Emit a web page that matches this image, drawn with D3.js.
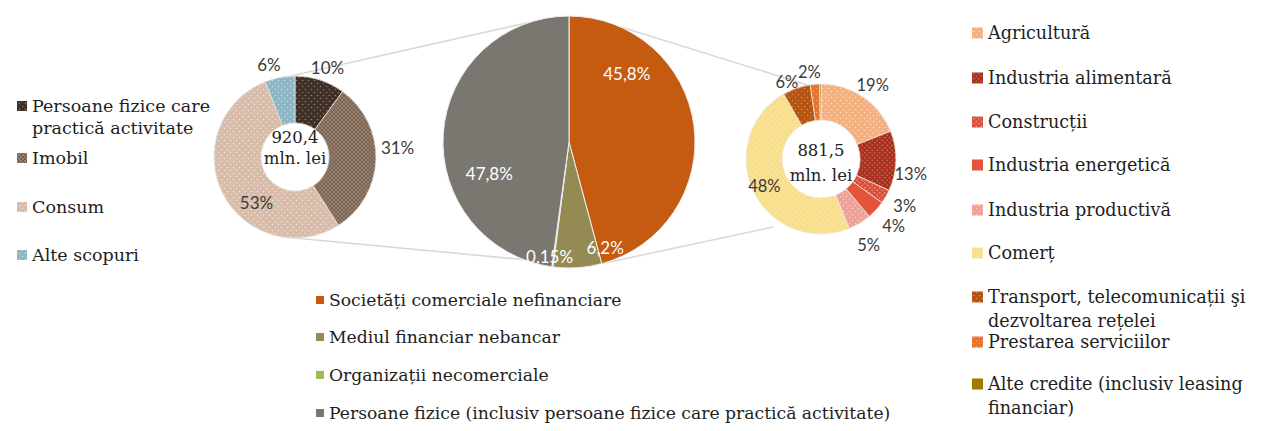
<!DOCTYPE html>
<html><head><meta charset="utf-8">
<script src="https://cdn.jsdelivr.net/npm/d3@7"></script>
<style>
body{margin:0;background:#fff;}
svg{display:block;}
</style></head>
<body><svg id="c" width="1271" height="431"></svg>
<script>
// ---------- DATA ----------
const leftCategories = ["Persoane fizice care practică activitate", "Imobil", "Consum", "Alte scopuri"];
const leftValues = [10, 31, 53, 6];
const leftLabels = ["10%", "31%", "53%", "6%"];
const leftTotal = ["920,4", "mln. lei"];

const midCategories = ["Societăți comerciale nefinanciare", "Mediul financiar nebancar", "Organizații necomerciale", "Persoane fizice (inclusiv persoane fizice care practică activitate)"];
const midValues = [45.8, 6.2, 0.15, 47.8];
const midLabels = ["45,8%", "6,2%", "0,15%", "47,8%"];

const rightCategories = ["Agricultură", "Industria alimentară", "Construcții", "Industria energetică", "Industria productivă", "Comerț", "Transport, telecomunicații şi dezvoltarea rețelei", "Prestarea serviciilor", "Alte credite (inclusiv leasing financiar)"];
const rightValues = [19, 13, 3, 4, 5, 48, 6, 2, 0.3];
const rightLabels = ["19%", "13%", "3%", "4%", "5%", "48%", "6%", "2%", ""];
const rightTotal = ["881,5", "mln. lei"];

// ---------- STYLE / LAYOUT ----------
const leftColors = [{b:"#3e3027",d:"#8a7a6c"},{b:"#7a6352",d:"#b8a595"},{b:"#d8bcaa",d:"#eedfd5"},{b:"#8cb6c4",d:"#c5dde5"}];
const midColors = ["#c55a11", "#948a54", "#9bbb59", "#7a7670"];
const rightColors = [{b:"#f4b07f",d:"#fbd8bd"},{b:"#a8321f",d:"#d0705c"},{b:"#d8513c",d:"#f19a88"},{b:"#e4543a",d:null},{b:"#eea196",d:"#f8d0ca"},{b:"#f8df8c",d:"#fbeab4"},{b:"#b5540f",d:"#dc8d55"},{b:"#e6722b",d:"#f3a570"},{b:"#a27a00",d:null}];

const leftLegendLines = [["Persoane fizice care", "practică activitate"], ["Imobil"], ["Consum"], ["Alte scopuri"]];
const leftLegendY = [106, 158, 207, 255];
const rightLegendLines = [["Agricultură"], ["Industria alimentară"], ["Construcții"], ["Industria energetică"], ["Industria productivă"], ["Comerț"], ["Transport, telecomunicații şi", "dezvoltarea rețelei"], ["Prestarea serviciilor"], ["Alte credite (inclusiv leasing", "financiar)"]];
const rightLegendY = [33, 78, 122, 165, 210, 253, 297, 342, 384];
const midLegendY = [300, 337, 375, 413];

// label placement: [angle shift (deg), radius]
const leftLabelPos = [[2, 95], [-7, 103], [-23, 60], [-5, 96]];
const midLabelPos = [[-42, 89], [-15, 112], [2, 117], [-26, 86]];
const rightLabelPos = [[1, 90], [8, 91], [-1, 96], [0, 99], [2, 98], [0, 63], [-5, 84], [-3, 88], [0, 0]];

const L = {cx: 295, cy: 157, r: 81, ri: 34};
const M = {cx: 569, cy: 142, r: 126};
const R = {cx: 821, cy: 159, r: 75, ri: 39};

const svg = d3.select("#c");
const defs = svg.append("defs");
function dotPattern(id, base, dot, step, rad) {
  const p = defs.append("pattern").attr("id", id).attr("patternUnits", "userSpaceOnUse")
    .attr("width", step).attr("height", step);
  p.append("rect").attr("width", step).attr("height", step).attr("fill", base);
  if (dot) {
    p.append("circle").attr("cx", step/4).attr("cy", step/4).attr("r", rad).attr("fill", dot);
    p.append("circle").attr("cx", 3*step/4).attr("cy", 3*step/4).attr("r", rad).attr("fill", dot);
  }
  return "url(#" + id + ")";
}
const leftFills = leftColors.map((c, i) => dotPattern("lp" + i, c.b, c.d, i === 1 ? 4 : 6, 0.8));
const rightFills = rightColors.map((c, i) => dotPattern("rp" + i, c.b, c.d, (i === 1 || i === 2) ? 5 : 6, 0.8));

const pie = d3.pie().sort(null).value(d => d);
const rad = a => a * Math.PI / 180;
const pt = (c, ang, r) => [c.cx + r * Math.sin(ang), c.cy - r * Math.cos(ang)];

// connector lines (behind)
const midArcs = pie(midValues);
const leftArcs = pie(leftValues);
const rightArcs = pie(rightValues);
const conn = svg.append("g").attr("stroke", "#d9d9d9").attr("stroke-width", 1.6).attr("fill", "none");
const lines = [
  [pt(L, rad(-4), L.r), pt(M, rad(-18), M.r)],
  [pt(L, rad(190), L.r), pt(M, rad(201), M.r)],
  [pt(M, midArcs[0].startAngle + rad(23.5), M.r), pt(R, rad(-10), R.r)],
  [pt(M, midArcs[0].endAngle, M.r), pt(R, rad(215), R.r + 8)]
];
lines.forEach(l => conn.append("line").attr("x1", l[0][0]).attr("y1", l[0][1]).attr("x2", l[1][0]).attr("y2", l[1][1]));

// left donut
const gL = svg.append("g").attr("transform", `translate(${L.cx},${L.cy})`);
gL.selectAll("path").data(leftArcs).join("path")
  .attr("d", d3.arc().innerRadius(L.ri).outerRadius(L.r))
  .attr("fill", (d, i) => leftFills[i]).attr("stroke", "#e8e2dc").attr("stroke-width", 0.8);

// mid pie
const gM = svg.append("g").attr("transform", `translate(${M.cx},${M.cy})`);
gM.selectAll("path").data(midArcs).join("path")
  .attr("d", d3.arc().innerRadius(0).outerRadius(M.r))
  .attr("fill", (d, i) => midColors[i]).attr("stroke", "#eeeeee").attr("stroke-width", 1);

// right donut
const gR = svg.append("g").attr("transform", `translate(${R.cx},${R.cy})`);
gR.selectAll("path").data(rightArcs).join("path")
  .attr("d", d3.arc().innerRadius(R.ri).outerRadius(R.r))
  .attr("fill", (d, i) => rightFills[i]).attr("stroke", "#efe6dc").attr("stroke-width", 0.8);

// percentage labels
const pctFont = "Lato, 'Open Sans', sans-serif";
function labels(g, arcs, texts, pos, color, size) {
  g.selectAll("text.pct").data(arcs).join("text").attr("class", "pct")
    .attr("x", (d, i) => { const a = (d.startAngle + d.endAngle) / 2 + rad(pos[i][0]); return pos[i][1] * Math.sin(a); })
    .attr("y", (d, i) => { const a = (d.startAngle + d.endAngle) / 2 + rad(pos[i][0]); return -pos[i][1] * Math.cos(a); })
    .attr("dy", "0.36em").attr("text-anchor", "middle")
    .attr("font-family", pctFont).attr("font-size", size).attr("fill", color)
    .text((d, i) => texts[i]);
}
labels(gL, leftArcs, leftLabels, leftLabelPos, "#3a3a3a", 17);
labels(gM, midArcs, midLabels, midLabelPos, "#fff", 17);
labels(gR, rightArcs, rightLabels, rightLabelPos, "#3a3a3a", 16.5);

// center totals
const serif = "'DejaVu Serif', 'Liberation Serif', serif";
function centerText(g, lines, y0, dy) {
  lines.forEach((t, i) => g.append("text").attr("x", 0).attr("y", y0 + i * dy).attr("dy", "0.35em")
    .attr("text-anchor", "middle").attr("font-family", serif).attr("font-size", 16.5).attr("fill", "#222").text(t));
}
centerText(gL, leftTotal, -20, 21);
centerText(gR, rightTotal, -9, 25);

// legends
function legend(x, ys, lineSets, fills, sq, lh, fs) {
  const g = svg.append("g");
  lineSets.forEach((ls, i) => {
    g.append("rect").attr("x", x).attr("y", ys[i] - sq / 2).attr("width", sq).attr("height", sq).attr("fill", fills[i]);
    const t = g.append("text").attr("font-family", serif).attr("font-size", fs).attr("fill", "#1e1e1e");
    ls.forEach((line, j) => t.append("tspan").attr("x", x + sq + 5).attr("y", ys[i] + j * lh).attr("dy", "0.34em").text(line));
  });
}
legend(17, leftLegendY, leftLegendLines, leftFills, 10, 22, 17.5);
legend(972, rightLegendY, rightLegendLines, rightFills, 11, 24, 17.6);
legend(316, midLegendY, midCategories.map(c => [c]), midColors, 8, 22, 17.2);
</script></body></html>
